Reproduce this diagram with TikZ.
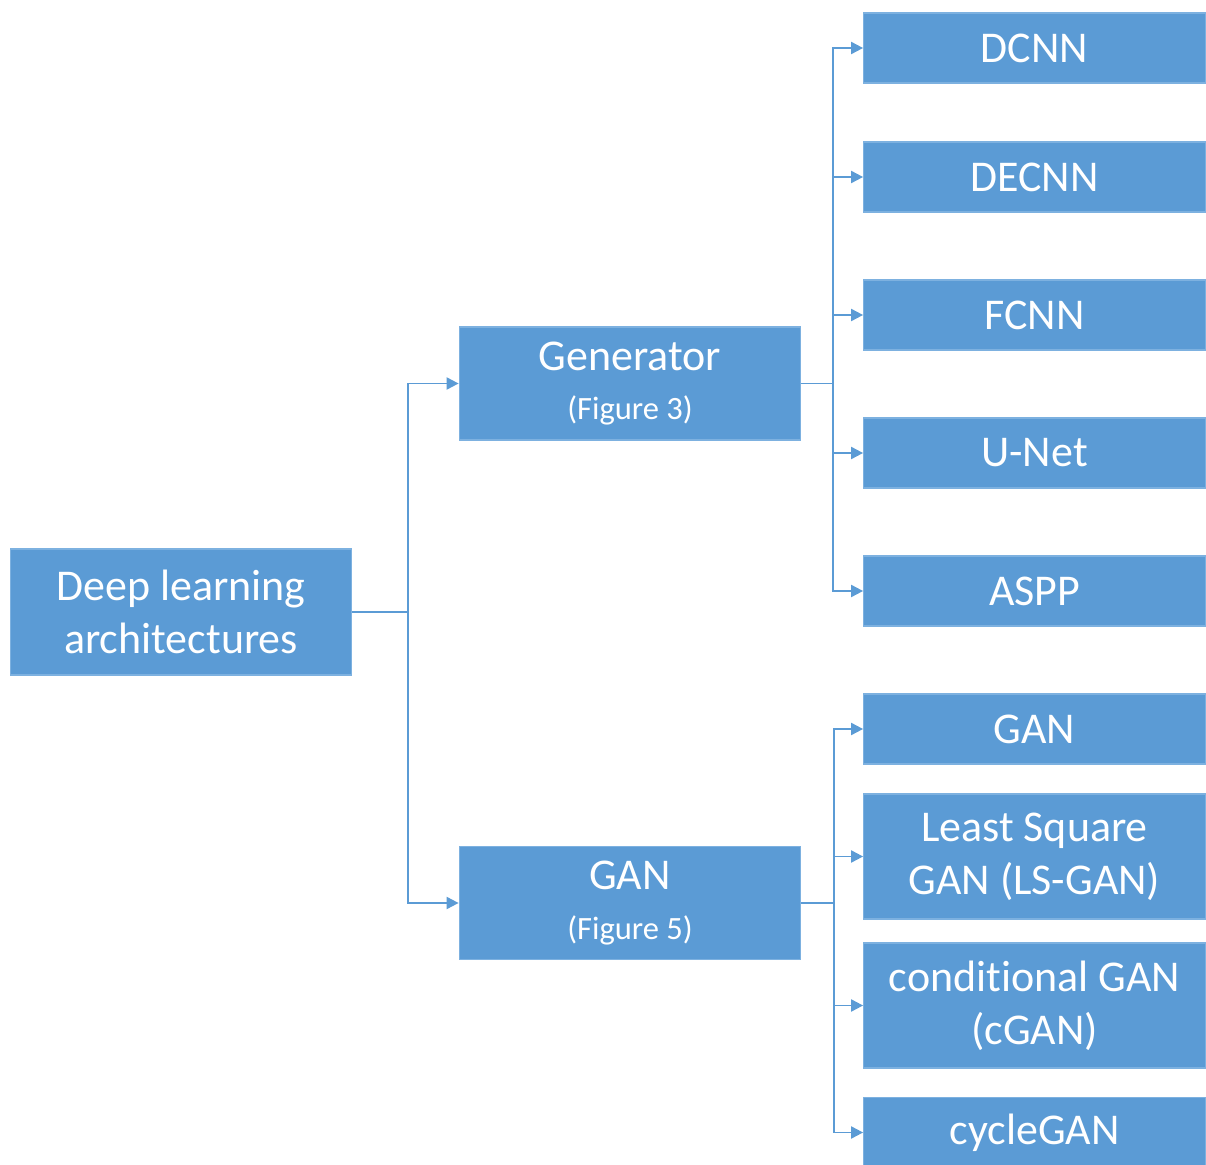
\documentclass[tikz,border=0pt]{standalone}
\usepackage{fontspec}
\setmainfont[Ligatures=NoCommon]{Carlito}
\usetikzlibrary{shapes, arrows.meta}
\definecolor{boxblue}{HTML}{5B9BD5}
\definecolor{boxedge}{HTML}{7DB1E0}
\definecolor{linkblue}{HTML}{5B9BD5}
\tikzstyle{block} = [rectangle, minimum width=6.8cm, text width=6.6cm, align=flush center, draw=boxedge, line width=0.6pt, fill=boxblue, text=white, font=\fontsize{25}{30}\selectfont]
\tikzstyle{root} = [block, minimum height=2.52cm]
\tikzstyle{branch} = [block, minimum height=2.26cm]
\tikzstyle{leaf} = [block, minimum height=1.4cm]
\tikzstyle{leafbig} = [block, minimum height=2.5cm]
\tikzstyle{line} = [draw=linkblue, line width=1.1pt, -{Triangle[length=0.24cm, width=0.24cm]}]
\newcommand{\fignote}[1]{\\[-2pt]{\fontsize{18.5}{21}\selectfont (Figure #1)}}

\begin{document}
\begin{tikzpicture}[node distance=2.76cm, auto]
            \useasboundingbox (0,0) rectangle (24.12,-23.3);
            % Draw nodes
            % Left
            \node (deep) [root] at (3.62,-12.24) {Deep learning architectures};
            
            % Middle
            \node (gen) [branch] at (12.6,-7.67) {Generator\fignote{3}};
            \node (gan) [branch] at (12.6,-18.06) {GAN\fignote{5}};
            
            % Right, generator part
            \node (dcnn) [leaf] at (20.69,-0.96) {DCNN};
            \node (decnn) [leaf, below of=dcnn, yshift=0.18cm] {DECNN};
            \node (fcnn) [leaf, below of=decnn] {FCNN};
            \node (unet) [leaf, below of=fcnn] {U-Net};
            \node (aspp) [leaf, below of=unet] {ASPP};
            
            % Right, GAN part
            \node (plaingan) [leaf, below of=aspp] {GAN};
            \node (lsgan) [leafbig, below of=plaingan, yshift=0.21cm] {Least Square\\GAN (LS-GAN)};
            \node (cgan) [leafbig, below of=lsgan, yshift=-0.22cm] {conditional GAN\\(cGAN)};
            \node (cycgan) [leaf, below of=cgan, yshift=0.22cm] {cycleGAN};
            
            % Draw lines
            % Main
            \path [line] (deep.east) -- ++(1.12,0) |- (gen.west);
            \path [line] (deep.east) -- ++(1.12,0) |- (gan.west);
            
            % Generator
            \foreach \n in {dcnn, decnn, fcnn, unet, aspp}
                \path [line] (gen.east) -- ++(0.64,0) |- (\n.west);
            
            % GAN
            \foreach \n in {plaingan, lsgan, cgan, cycgan}
                \path [line] (gan.east) -- ++(0.66,0) |- (\n.west);
        \end{tikzpicture}
\end{document}
